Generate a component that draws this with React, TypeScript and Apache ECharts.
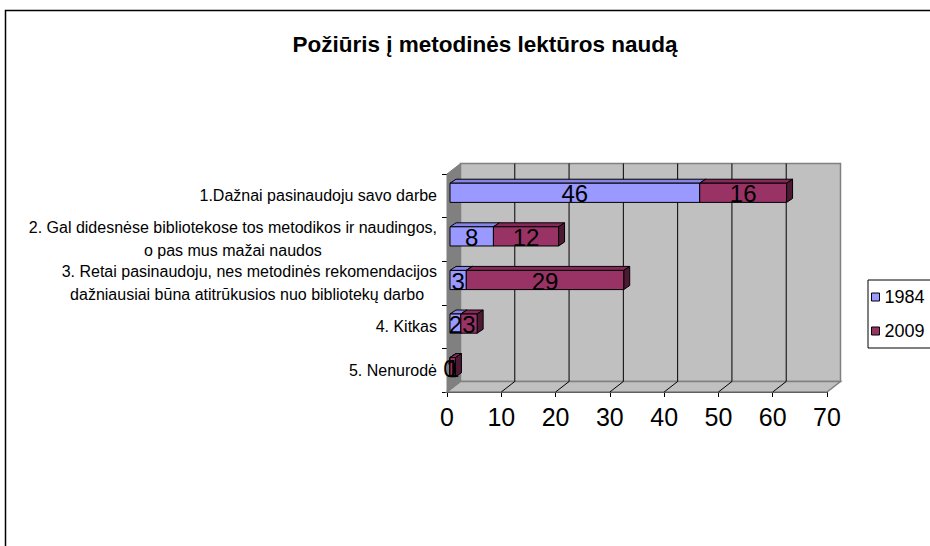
import React, { useEffect, useRef } from "react";
import * as echarts from "echarts";

const categories = [
  "1.Dažnai pasinaudoju savo darbe",
  "2. Gal didesnėse bibliotekose tos metodikos ir naudingos,\no pas mus mažai naudos",
  "3. Retai pasinaudoju, nes metodinės rekomendacijos\ndažniausiai būna atitrūkusios nuo bibliotekų darbo ",
  "4. Kitkas",
  "5. Nenurodė",
];
const seriesNames = ["1984", "2009"];
const values1984 = [46, 8, 3, 2, 0];
const values2009 = [16, 12, 29, 3, 1];
const xTicks = [0, 10, 20, 30, 40, 50, 60, 70];
const titleText = "Požiūris į metodinės lektūros naudą";

const FONT = "'Liberation Sans', Arial, sans-serif";
const WALL_DX = 13.5;
const WALL_DY = -10.5;
const BAR_OX = 3;
const BAR_OY = -3;
const BAR_DX = 6;
const BAR_DY = -4;

const faceColors: Record<string, { front: string; top: string; side: string }> = {
  "1984": { front: "#9999FF", top: "#8585e6", side: "#5c5cad" },
  "2009": { front: "#993366", top: "#86295a", side: "#4d1933" },
};

function stackData() {
  const a = values1984.map((v, i) => [i, 0, v, v]);
  const b = values2009.map((v, i) => [i, values1984[i], values1984[i] + v, v]);
  return [a, b];
}

function barGeom(params: any, api: any) {
  const c = api.value(0);
  const s = api.value(1);
  const e = api.value(2);
  const p0 = api.coord([s, c]);
  const p1 = api.coord([e, c]);
  const bh = api.size([0, 1])[1] * 0.44;
  const xl = p0[0] + BAR_OX;
  const xr = p1[0] + BAR_OX;
  const yb = p0[1] + BAR_OY + bh / 2;
  const yt = yb - bh;
  return { xl, xr, yt, yb };
}

export default function App() {
  const ref = useRef<HTMLDivElement>(null);
  useEffect(() => {
    if (!ref.current) return;
    const chart = echarts.init(ref.current, undefined, { renderer: "svg" });
    const [d1984, d2009] = stackData();

    const makeBarSeries = (name: string, data: number[][]) => ({
      type: "custom",
      name,
      z: 3,
      itemStyle: { color: faceColors[name].front },
      data,
      renderItem: (params: any, api: any) => {
        const { xl, xr, yt, yb } = barGeom(params, api);
        const col = faceColors[name];
        return {
          type: "group",
          children: [
            {
              type: "polygon",
              shape: { points: [[xl, yt], [xr, yt], [xr + BAR_DX, yt + BAR_DY], [xl + BAR_DX, yt + BAR_DY]] },
              style: { fill: col.top, stroke: "#000", lineWidth: 1 },
            },
            {
              type: "polygon",
              shape: { points: [[xr, yt], [xr, yb], [xr + BAR_DX, yb + BAR_DY], [xr + BAR_DX, yt + BAR_DY]] },
              style: { fill: col.side, stroke: "#000", lineWidth: 1 },
            },
            {
              type: "rect",
              shape: { x: xl, y: yt, width: Math.max(xr - xl, 0), height: yb - yt },
              style: { fill: col.front, stroke: "#000", lineWidth: 1 },
            },
          ],
        };
      },
    });

    const makeLabelSeries = (data: number[][]) => ({
      type: "custom",
      z: 5,
      silent: true,
      data,
      renderItem: (params: any, api: any) => {
        const { xl, xr, yt, yb } = barGeom(params, api);
        return {
          type: "text",
          style: {
            text: String(api.value(3)),
            x: (xl + xr) / 2,
            y: (yt + yb) / 2 + 1,
            align: "center",
            verticalAlign: "middle",
            fill: "#000",
            font: `24px ${FONT}`,
          },
        };
      },
    });

    const option: any = {
      animation: false,
      backgroundColor: "#fff",
      title: {
        text: titleText,
        left: 485,
        textAlign: "center",
        top: 33,
        padding: 0,
        textStyle: { fontFamily: FONT, fontSize: 22.5, fontWeight: "bold", color: "#000" },
      },
      graphic: [
        {
          type: "rect",
          shape: { x: 5.5, y: 10.5, width: 1000, height: 1000 },
          style: { fill: "none", stroke: "#000", lineWidth: 1.5 },
          z: 10,
        },
      ],
      legend: {
        data: seriesNames,
        orient: "vertical",
        left: 868,
        top: 280,
        padding: [8, 80, 8, 3],
        itemGap: 16,
        itemWidth: 8,
        itemHeight: 8,
        icon: "rect",
        borderColor: "#000",
        borderWidth: 1,
        backgroundColor: "#fff",
        itemStyle: { borderColor: "#000", borderWidth: 1 },
        textStyle: { fontFamily: FONT, fontSize: 18, color: "#000", padding: [0, 0, 0, 0] },
      },
      grid: { left: 447, top: 174, width: 380, height: 218 },
      xAxis: {
        type: "value",
        min: 0,
        max: 70,
        interval: 10,
        axisLine: { show: true, lineStyle: { color: "#000", width: 1 } },
        axisTick: { show: true, length: 5, lineStyle: { color: "#000" } },
        axisLabel: { fontFamily: FONT, fontSize: 25, color: "#000", margin: 12 },
        splitLine: { show: false },
      },
      yAxis: {
        type: "category",
        inverse: true,
        data: categories,
        axisLine: { show: true, lineStyle: { color: "#000", width: 1 } },
        axisTick: { show: true, length: 5, lineStyle: { color: "#000" } },
        axisLabel: {
          margin: 10,
          fontFamily: FONT,
          fontSize: 16,
          color: "#000",
          lineHeight: 23,
          formatter: (v: string) =>
            v
              .split("\n")
              .map((l) => `{c|${l}}`)
              .join("\n"),
          rich: {
            c: { align: "center", fontFamily: FONT, fontSize: 16, color: "#000", lineHeight: 23 },
          },
        },
      },
      series: [
        {
          type: "custom",
          z: 1,
          silent: true,
          data: [[0, 0]],
          renderItem: (params: any, api: any) => {
            const cs = params.coordSys;
            const x = cs.x, y = cs.y, w = cs.width, h = cs.height;
            const children: any[] = [];
            children.push({
              type: "polygon",
              shape: { points: [[x + WALL_DX, y + WALL_DY], [x + w + WALL_DX, y + WALL_DY], [x + w + WALL_DX, y + h + WALL_DY], [x + WALL_DX, y + h + WALL_DY]] },
              style: { fill: "#C0C0C0", stroke: "#808080", lineWidth: 1.5 },
            });
            children.push({
              type: "polygon",
              shape: { points: [[x, y + h], [x + w, y + h], [x + w + WALL_DX, y + h + WALL_DY], [x + WALL_DX, y + h + WALL_DY]] },
              style: { fill: "#C0C0C0", stroke: "#808080", lineWidth: 1.5 },
            });
            children.push({
              type: "polygon",
              shape: { points: [[x, y], [x, y + h], [x + WALL_DX, y + h + WALL_DY], [x + WALL_DX, y + WALL_DY]] },
              style: { fill: "#808080", stroke: "#808080", lineWidth: 1 },
            });
            xTicks.forEach((t) => {
              if (t === xTicks[0] || t === xTicks[xTicks.length - 1]) return;
              const px = api.coord([t, 0])[0];
              children.push({
                type: "line",
                shape: { x1: px + WALL_DX, y1: y + WALL_DY, x2: px + WALL_DX, y2: y + h + WALL_DY },
                style: { stroke: "#000", lineWidth: 1 },
              });
              children.push({
                type: "line",
                shape: { x1: px, y1: y + h, x2: px + WALL_DX, y2: y + h + WALL_DY },
                style: { stroke: "#000", lineWidth: 1 },
              });
            });
            return { type: "group", children };
          },
        },
        makeBarSeries("1984", d1984),
        makeBarSeries("2009", d2009),
        makeLabelSeries(d1984),
        makeLabelSeries(d2009),
      ],
    };
    chart.setOption(option);
    return () => chart.dispose();
  }, []);
  return (
    <div
      ref={ref}
      style={{ position: "absolute", left: 0, top: 0, width: 930, height: 546 }}
    />
  );
}
